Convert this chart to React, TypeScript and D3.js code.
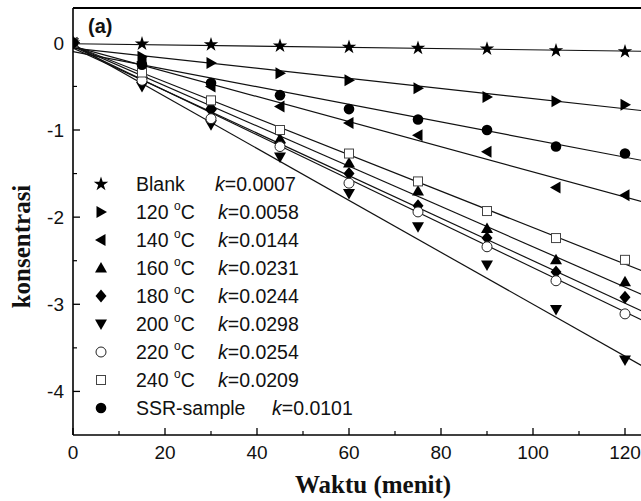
import React from 'react';
import * as d3 from 'd3';

const times = [0, 15, 30, 45, 60, 75, 90, 105, 120];
const seriesKeys = ['blank', 's120', 's140', 's160', 's180', 's200', 's220', 's240', 'ssr'];
const seriesLabels = ['Blank', '120', '140', '160', '180', '200', '220', '240', 'SSR-sample'];
const kLabels = ['0.0007', '0.0058', '0.0144', '0.0231', '0.0244', '0.0298', '0.0254', '0.0209', '0.0101'];
const kValues = [0.0007, 0.0058, 0.0144, 0.0231, 0.0244, 0.0298, 0.0254, 0.0209, 0.0101];
const intercepts = [-0.01, -0.06, -0.04, -0.03, -0.06, -0.02, -0.04, -0.03, -0.1];
const markerTypes = ['star', 'triRight', 'triLeft', 'triUp', 'diamond', 'triDown', 'openCircle', 'openSquare', 'circle'];

const blank = [0, -0.01, -0.02, -0.035, -0.05, -0.06, -0.07, -0.09, -0.1];
const s120 = [0, -0.16, -0.23, -0.35, -0.43, -0.52, -0.62, -0.67, -0.71];
const s140 = [0, -0.22, -0.5, -0.73, -0.92, -1.06, -1.25, -1.66, -1.75];
const s160 = [0, -0.35, -0.72, -1.1, -1.38, -1.7, -2.13, -2.49, -2.74];
const s180 = [0, -0.4, -0.77, -1.15, -1.5, -1.87, -2.24, -2.63, -2.92];
const s200 = [0, -0.5, -0.94, -1.31, -1.73, -2.11, -2.55, -3.06, -3.64];
const s220 = [0, -0.43, -0.87, -1.19, -1.61, -1.94, -2.34, -2.73, -3.11];
const s240 = [0, -0.34, -0.66, -1.0, -1.27, -1.59, -1.93, -2.24, -2.49];
const ssr = [0, -0.25, -0.46, -0.6, -0.76, -0.88, -1.0, -1.19, -1.27];

const seriesValues = [blank, s120, s140, s160, s180, s200, s220, s240, ssr];

const xMajor = [0, 20, 40, 60, 80, 100, 120, 140];
const xMinor = [10, 30, 50, 70, 90, 110, 130];
const yMajor = [0, -1, -2, -3, -4];
const yMinor = [-0.5, -1.5, -2.5, -3.5];

const W = 641;
const H = 501;
const left = 73;
const top = 8;
const bottom = 435;

const x = d3.scaleLinear().domain([0, 130]).range([left, left + 130 * 4.6]);
const y = d3.scaleLinear().domain([-4.5, 0.4]).range([bottom, top]);

const sansFont = '"Liberation Sans", Arial, sans-serif';
const serifFont = '"Liberation Serif", "Times New Roman", serif';

function Marker({ type, cx, cy }: { type: string; cx: number; cy: number }) {
  switch (type) {
    case 'star': {
      const p = d3.symbol(d3.symbolStar, 65)();
      return <path d={p || ''} transform={`translate(${cx},${cy})`} fill="#000" />;
    }
    case 'triRight':
      return <path d={`M${cx - 4.5},${cy - 6}L${cx + 6},${cy}L${cx - 4.5},${cy + 6}Z`} fill="#000" />;
    case 'triLeft':
      return <path d={`M${cx + 4.5},${cy - 6}L${cx - 6},${cy}L${cx + 4.5},${cy + 6}Z`} fill="#000" />;
    case 'triUp':
      return <path d={`M${cx - 6},${cy + 4.5}L${cx + 6},${cy + 4.5}L${cx},${cy - 6}Z`} fill="#000" />;
    case 'triDown':
      return <path d={`M${cx - 6},${cy - 4.5}L${cx + 6},${cy - 4.5}L${cx},${cy + 6}Z`} fill="#000" />;
    case 'diamond':
      return <path d={`M${cx},${cy - 6.5}L${cx + 5.5},${cy}L${cx},${cy + 6.5}L${cx - 5.5},${cy}Z`} fill="#000" />;
    case 'openCircle':
      return <circle cx={cx} cy={cy} r={5} fill="#fff" stroke="#222" strokeWidth={1} />;
    case 'openSquare':
      return <rect x={cx - 4.5} y={cy - 4.5} width={9} height={9} fill="#fff" stroke="#444" strokeWidth={1} />;
    case 'circle':
    default:
      return <circle cx={cx} cy={cy} r={5.3} fill="#000" />;
  }
}

const legendRowY = (i: number) => 184 + i * 28;

export default function App() {
  const xEnd = 130;
  return (
    <svg width={W} height={H} style={{ position: 'absolute', left: 0, top: 0, background: '#fff' }}>
      <defs>
        <clipPath id="plotClip">
          <rect x={left} y={top} width={W - left} height={bottom - top} />
        </clipPath>
      </defs>
      <rect x={0} y={0} width={W} height={H} fill="#fff" />

      {/* fit lines */}
      <g clipPath="url(#plotClip)">
        {seriesKeys.map((key, i) => {
          const line = d3
            .line<number>()
            .x((t) => x(t))
            .y((t) => y(intercepts[i] - kValues[i] * t));
          return <path key={key} d={line([0, xEnd]) || ''} stroke="#111" strokeWidth={1.2} fill="none" />;
        })}
        {seriesKeys.map((key, i) => (
          <g key={key + '-m'}>
            {seriesValues[i].map((v, j) => (
              <Marker key={j} type={markerTypes[i]} cx={x(times[j])} cy={y(v)} />
            ))}
          </g>
        ))}
      </g>

      {/* frame */}
      <line x1={left} y1={top} x2={W} y2={top} stroke="#000" strokeWidth={1.8} />
      <line x1={left} y1={top} x2={left} y2={bottom} stroke="#000" strokeWidth={1.6} />
      <line x1={left} y1={bottom} x2={W} y2={bottom} stroke="#000" strokeWidth={1.6} />

      {/* x ticks */}
      {xMajor.map((t) => (
        <g key={'xm' + t}>
          <line x1={x(t)} x2={x(t)} y1={bottom} y2={bottom - 7} stroke="#000" strokeWidth={1.3} />
          <text x={x(t)} y={459} textAnchor="middle" fontFamily={sansFont} fontSize={19} fill="#111">
            {t}
          </text>
        </g>
      ))}
      {xMinor.map((t) => (
        <line key={'xn' + t} x1={x(t)} x2={x(t)} y1={bottom} y2={bottom - 4} stroke="#000" strokeWidth={1.2} />
      ))}

      {/* y ticks */}
      {yMajor.map((v) => (
        <g key={'ym' + v}>
          <line x1={left} x2={left + 7} y1={y(v)} y2={y(v)} stroke="#000" strokeWidth={1.3} />
          <text x={64} y={y(v)} dy="0.36em" textAnchor="end" fontFamily={sansFont} fontSize={19} fill="#111">
            {v === 0 ? '0' : '-' + Math.abs(v)}
          </text>
        </g>
      ))}
      {yMinor.map((v) => (
        <line key={'yn' + v} x1={left} x2={left + 4} y1={y(v)} y2={y(v)} stroke="#000" strokeWidth={1.2} />
      ))}

      {/* panel label */}
      <text x={88} y={33} fontFamily={sansFont} fontWeight="bold" fontSize={20} fill="#111">
        (a)
      </text>

      {/* legend */}
      {seriesKeys.map((key, i) => {
        const ry = legendRowY(i);
        const isTemp = i >= 1 && i <= 7;
        const kx = i === 0 ? 215 : i === 8 ? 272 : 218;
        return (
          <g key={key + '-leg'}>
            <Marker type={markerTypes[i]} cx={101} cy={ry} />
            <text x={136} y={ry} dy="0.36em" fontFamily={sansFont} fontSize={19.5} fill="#111">
              {isTemp ? (
                <>
                  {seriesLabels[i] + ' '}
                  <tspan fontSize={12} dy="-0.75em">o</tspan>
                  <tspan dy="0.45em">C</tspan>
                </>
              ) : (
                seriesLabels[i]
              )}
            </text>
            <text x={kx} y={ry} dy="0.36em" fontFamily={sansFont} fontSize={19.5} fill="#111">
              <tspan fontStyle="italic">k</tspan>
              {'=' + kLabels[i]}
            </text>
          </g>
        );
      })}

      {/* axis titles */}
      <text x={373} y={493} textAnchor="middle" fontFamily={serifFont} fontWeight="bold" fontSize={25} fill="#111">
        Waktu (menit)
      </text>
      <text
        transform={`translate(30,${(top + bottom) / 2 + 25}) rotate(-90)`}
        textAnchor="middle"
        fontFamily={serifFont}
        fontWeight="bold"
        fontSize={25}
        fill="#111"
      >
        konsentrasi
      </text>
    </svg>
  );
}
